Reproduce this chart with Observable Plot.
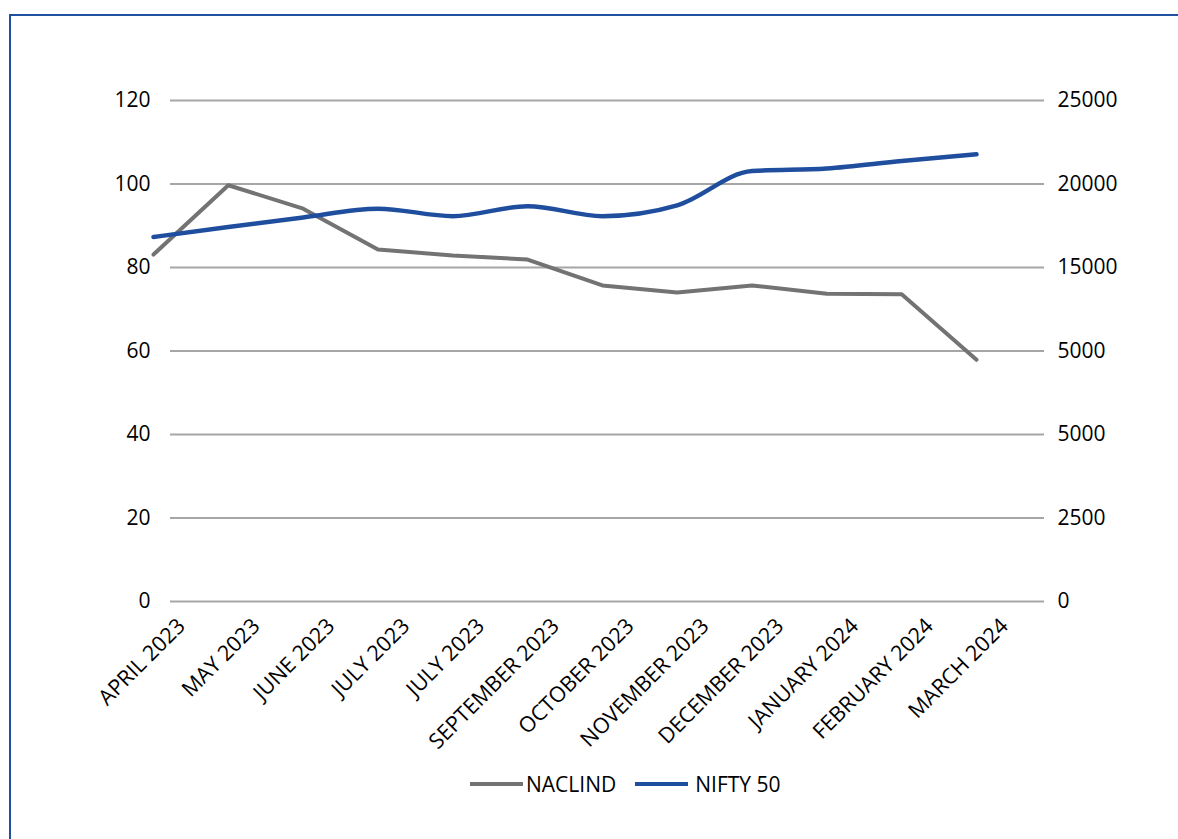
<!DOCTYPE html>
<html><head><meta charset="utf-8">
<script src="https://cdn.jsdelivr.net/npm/d3@7"></script>
<script src="https://cdn.jsdelivr.net/npm/@observablehq/plot@0.6"></script>
<style>
html,body{margin:0;padding:0;background:#fff;overflow:hidden;}
body{width:1178px;height:839px;position:relative;font-family:"Open Sans",sans-serif;}
#frame{position:absolute;left:9px;top:14px;width:1220px;height:900px;border:2px solid #2150a0;box-sizing:border-box;}
#chart{position:absolute;left:0;top:0;}
#legend{position:absolute;left:470px;top:769px;display:flex;align-items:center;font-size:21px;color:#000;line-height:30px;}
.sw{display:inline-block;width:53px;height:4px;}
</style></head><body>
<div id="frame"></div>
<div id="chart"></div>
<div id="legend"></div>
<script>
const months = ["APRIL 2023","MAY 2023","JUNE 2023","JULY 2023","JULY 2023","SEPTEMBER 2023","OCTOBER 2023","NOVEMBER 2023","DECEMBER 2023","JANUARY 2024","FEBRUARY 2024","MARCH 2024"];
const naclind = [83.1, 99.7, 94.1, 84.3, 82.9, 81.9, 75.7, 74.0, 75.7, 73.7, 73.6, 57.9];
const nifty = [16825, 17425, 18000, 18525, 18075, 18675, 18075, 18725, 20775, 20925, 21375, 21775];
const leftTicks = [0, 20, 40, 60, 80, 100, 120];
const rightTickLabels = ["0", "2500", "5000", "5000", "15000", "20000", "25000"];
const seriesNames = ["NACLIND", "NIFTY 50"];
const seriesColors = ["#737373", "#1f4e9e"];

// secondary axis: 15000 -> 80, 20000 -> 100, 25000 -> 120 on the primary scale
const niftyToLeft = v => v / 250 + 20;
const rows = months.map((m, i) => ({i, m, nac: naclind[i], nif: niftyToLeft(nifty[i])}));

const plot = Plot.plot({
  width: 1178, height: 760,
  marginTop: 100, marginBottom: 159, marginLeft: 170, marginRight: 134,
  style: {fontFamily: "Open Sans", fontSize: "21px", color: "#000", background: "transparent"},
  x: {type: "linear", domain: [0, 11], range: [153, 976]},
  y: {domain: [0, 120]},
  marks: [
    Plot.gridY(leftTicks, {stroke: "#a6a6a6", strokeOpacity: 1, strokeWidth: 2}),
    Plot.axisY(leftTicks, {anchor: "left", tickSize: 0, tickPadding: 20, label: null}),
    Plot.axisY(leftTicks, {anchor: "right", tickSize: 0, tickPadding: 13, label: null,
      tickFormat: d => rightTickLabels[leftTicks.indexOf(d)]}),
    Plot.axisX(d3.range(months.length), {tickSize: 0, tickRotate: -45, tickPadding: 21, dx: 28,
      fontSize: 21.5, tickFormat: i => months[i], label: null}),
    Plot.line(rows, {x: "i", y: "nac", stroke: seriesColors[0], strokeWidth: 4}),
    Plot.line(rows, {x: "i", y: "nif", stroke: seriesColors[1], strokeWidth: 4.5, curve: "monotone-x"})
  ]
});
document.getElementById("chart").appendChild(plot);

const legend = document.getElementById("legend");
seriesNames.forEach((name, k) => {
  const sw = document.createElement("span");
  sw.className = "sw";
  sw.style.background = seriesColors[k];
  if (k > 0) sw.style.marginLeft = "19px";
  const t = document.createElement("span");
  t.textContent = name;
  t.style.marginLeft = k > 0 ? "7px" : "3px";
  legend.appendChild(sw);
  legend.appendChild(t);
});
</script>
</body></html>
